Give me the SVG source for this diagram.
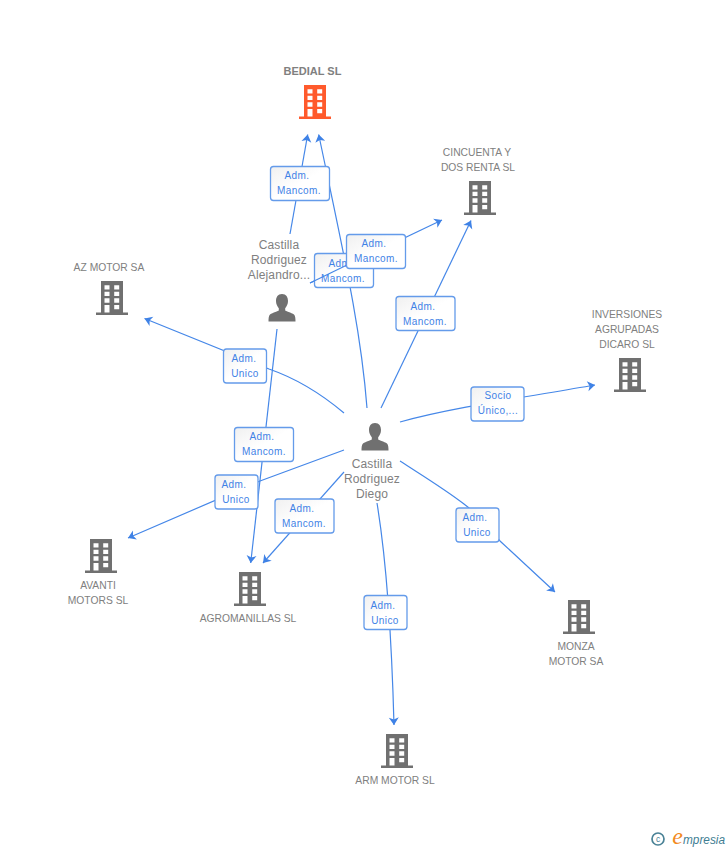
<svg xmlns="http://www.w3.org/2000/svg" width="728" height="850" viewBox="0 0 728 850">
<style>
.n{font-family:"Liberation Sans",Arial,sans-serif;font-size:10.3px;fill:#808080;text-anchor:middle}
.p{font-family:"Liberation Sans",Arial,sans-serif;font-size:12px;fill:#808080;text-anchor:middle;letter-spacing:.15px}
.b{font-weight:bold;font-size:11px}
.e{fill:none;stroke:#4587e8;stroke-width:1.2}
.h{marker-end:url(#arr)}
.lb{fill:url(#g);stroke:#649bea;stroke-width:1.3}
.lt{font-family:"Liberation Sans",Arial,sans-serif;font-size:10px;fill:#3f82e6;text-anchor:middle;letter-spacing:.4px}
</style>
<defs>
<linearGradient id="g" x1="0" y1="0" x2="1" y2="1"><stop offset="0" stop-color="#f0f0f0"/><stop offset=".5" stop-color="#fff"/><stop offset="1" stop-color="#fff"/></linearGradient>
<marker id="arr" markerUnits="userSpaceOnUse" markerWidth="12" markerHeight="12" viewBox="-10 -6 12 12" refX="0" refY="0" orient="auto" overflow="visible">
<path d="M0 0L-7.500 -5L-5.500 0L-7.500 5Z" fill="#3f82e6"/>
</marker>
<symbol id="bld" width="32" height="34" viewBox="0 0 32 34" overflow="visible">
<path fill-rule="evenodd" d="M5 0H27V31.500H32V34H0V31.500H5ZM8.500 4.300V8.500H13.500V4.300ZM18.200 4.300V8.500H23.200V4.300ZM8.500 10.700V15H13.500V10.700ZM18.200 10.700V15H23.200V10.700ZM8.500 17.300V21.700H13.500V17.300ZM18.200 17.300V21.700H23.200V17.300ZM8.500 24V31.500H13.500V24ZM18.200 24V28.300H23.200V24Z"/>
</symbol>
<symbol id="per" width="28" height="28" viewBox="0 0 28 28" overflow="visible">
<path d="M14 0C9.800 0 8 3.300 8 7C8 10 9.300 12.600 10.800 14.200V16.300C10.800 17.300 4.500 18.500 2 20.600C.6 22 .5 25 .5 27.600H27.500C27.500 25 27.400 22 26 20.600C23.500 18.500 17.200 17.300 17.200 16.300V14.200C18.700 12.600 20 10 20 7C20 3.300 18.200 0 14 0Z"/>
</symbol>
</defs>
<rect width="728" height="850" fill="#fff"/>
<g id="connectors">
<path class="e h" d="M290 234L307.700 134.500"/>
<path class="e h" d="M344 413C325 397 298 379 269 369L144.500 318.500"/>
<path class="e h" d="M367 408C361 330 345 260 318.700 134.500"/>
<path class="e h" d="M310 283L442 220"/>
<path class="e h" d="M381 408L471 220.500"/>
<path class="e h" d="M400 422C450 408 520 398 595 385"/>
<path class="e h" d="M277 329L250.700 563"/>
<path class="e h" d="M344 450L260 481L128 538"/>
<path class="e h" d="M344 472L263 563"/>
<path class="e h" d="M377 503C388 570 392 650 394 725"/>
<path class="e h" d="M400 461C440 487 480 510 500 541L555 592"/>
</g>
<g id="labels">
<g><rect class="lb" x="270.500" y="166.500" width="59" height="34" rx="3"/><text class="lt" x="297" y="179">Adm.</text><text class="lt" x="299" y="194">Mancom.</text></g>
<g><rect class="lb" x="314.500" y="253.500" width="59" height="34" rx="3"/><text class="lt" x="341" y="267">Adm.</text><text class="lt" x="343" y="282">Mancom.</text></g>
<path class="e" d="M310 283L347 265"/>
<g><rect class="lb" x="346.500" y="234.500" width="59" height="34" rx="3"/><text class="lt" x="374" y="247">Adm.</text><text class="lt" x="376" y="262">Mancom.</text></g>
<g><rect class="lb" x="396" y="296.500" width="59" height="34" rx="3"/><text class="lt" x="423" y="310">Adm.</text><text class="lt" x="425" y="325">Mancom.</text></g>
<g><rect class="lb" x="223.500" y="349" width="43" height="34" rx="3"/><text class="lt" x="244" y="362">Adm.</text><text class="lt" x="245" y="377">Unico</text></g>
<g><rect class="lb" x="471" y="387" width="53" height="34" rx="3"/><text class="lt" x="498" y="399">Socio</text><text class="lt" x="498" y="414">Único,...</text></g>
<g><rect class="lb" x="234.500" y="427.500" width="59" height="34" rx="3"/><text class="lt" x="262" y="440">Adm.</text><text class="lt" x="264" y="455">Mancom.</text></g>
<g><rect class="lb" x="215" y="475" width="43" height="34" rx="3"/><text class="lt" x="234" y="488">Adm.</text><text class="lt" x="236" y="503">Unico</text></g>
<g><rect class="lb" x="275" y="499" width="59" height="34" rx="3"/><text class="lt" x="302" y="512">Adm.</text><text class="lt" x="304" y="527">Mancom.</text></g>
<g><rect class="lb" x="456" y="508" width="43" height="34" rx="3"/><text class="lt" x="475" y="521">Adm.</text><text class="lt" x="477" y="536">Unico</text></g>
<g><rect class="lb" x="364" y="595.500" width="43" height="34" rx="3"/><text class="lt" x="383" y="609">Adm.</text><text class="lt" x="385" y="624">Unico</text></g>
</g>
<g id="bedial"><text class="n b" x="312.500" y="75">BEDIAL SL</text><use href="#bld" x="299" y="85" fill="#ff5a2c"/></g>
<g id="cincuenta"><text class="n" x="477" y="156">CINCUENTA Y</text><text class="n" x="478" y="171">DOS RENTA SL</text><use href="#bld" x="464" y="181" fill="#707070"/></g>
<g id="azmotor"><text class="n" x="109" y="271">AZ MOTOR SA</text><use href="#bld" x="96" y="281" fill="#707070"/></g>
<g id="inversiones"><text class="n" x="627" y="318">INVERSIONES</text><text class="n" x="627" y="333">AGRUPADAS</text><text class="n" x="627" y="348">DICARO SL</text><use href="#bld" x="614" y="358" fill="#707070"/></g>
<g id="avanti"><use href="#bld" x="85" y="539" fill="#707070"/><text class="n" x="98" y="589">AVANTI</text><text class="n" x="98" y="604">MOTORS SL</text></g>
<g id="agromanillas"><use href="#bld" x="234" y="572" fill="#707070"/><text class="n" x="248" y="622">AGROMANILLAS SL</text></g>
<g id="monza"><use href="#bld" x="563" y="600" fill="#707070"/><text class="n" x="576" y="650">MONZA</text><text class="n" x="576" y="665">MOTOR SA</text></g>
<g id="armmotor"><use href="#bld" x="381" y="734" fill="#707070"/><text class="n" x="395" y="784">ARM MOTOR SL</text></g>
<g id="alejandro"><text class="p" x="279" y="249">Castilla</text><text class="p" x="279" y="264">Rodriguez</text><text class="p" x="279" y="279">Alejandro...</text><use href="#per" x="268" y="294" fill="#707070"/></g>
<g id="diego"><use href="#per" x="361" y="423" fill="#707070"/><text class="p" x="372" y="468">Castilla</text><text class="p" x="372" y="483">Rodriguez</text><text class="p" x="372" y="498">Diego</text></g>
<g id="logo"><circle cx="658" cy="839" r="6" fill="none" stroke="#4a8296" stroke-width="1.700"/><text x="658" y="842" font-family="'Liberation Sans',sans-serif" font-size="8.500" fill="#4a8296" text-anchor="middle">c</text><text x="677.500" y="844" font-family="'Liberation Serif',serif" font-style="italic" font-size="24" fill="#f28a1e" text-anchor="middle">e</text><text x="683" y="844" font-family="'Liberation Sans',sans-serif" font-style="italic" font-size="12.500" fill="#3e7d92" textLength="42" lengthAdjust="spacingAndGlyphs">mpresia</text></g>
</svg>
